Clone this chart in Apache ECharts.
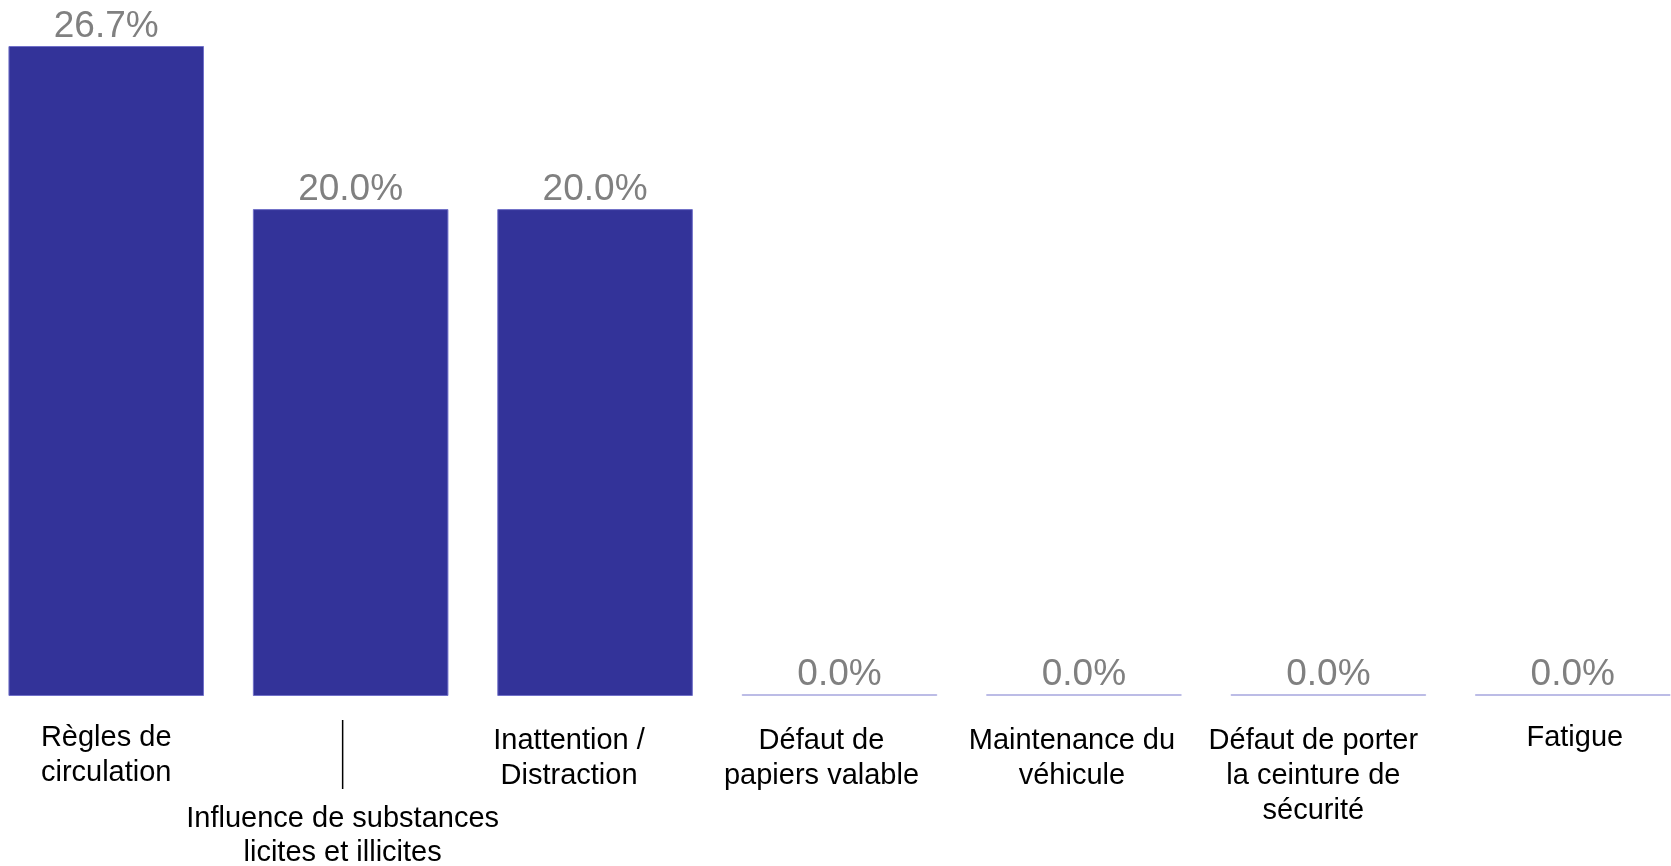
<!DOCTYPE html>
<html>
<head>
<meta charset="utf-8">
<script src="https://cdn.jsdelivr.net/npm/echarts@6/dist/echarts.min.js"></script>
<style>
html,body{margin:0;padding:0;background:#fff;}
#chart{width:1671px;height:866px;}
</style>
</head>
<body>
<div id="chart"></div>
<script>
const categories = [
  "Règles de\ncirculation",
  "Influence de substances\nlicites et illicites",
  "Inattention /\nDistraction",
  "Défaut de\npapiers valable",
  "Maintenance du\nvéhicule",
  "Défaut de porter\nla ceinture de\nsécurité",
  "Fatigue"
];
const values = [26.7, 20.0, 20.0, 0.0, 0.0, 0.0, 0.0];

// label nudges (style only, in px)
const labelShiftX = [0, -8, -26, -18, -12, -15, 2];
const labelShiftY = [0, 0, 3, 3, 3, 3, 0];

const FONT = 'Liberation Sans, Arial, sans-serif';
const chart = echarts.init(document.getElementById('chart'));

const xData = categories.map((c, i) => {
  const s = labelShiftX[i], t = labelShiftY[i];
  return {
    value: c,
    textStyle: { padding: [t, s < 0 ? -2 * s : 0, 0, s > 0 ? 2 * s : 0] }
  };
});

const data = values.map(v => v === 0
  ? { value: v, itemStyle: { color: '#bcbce6', borderColor: '#bcbce6' } }
  : { value: v });

chart.setOption({
  animation: false,
  grid: { left: -16, right: -24, top: 46, bottom: 170, containLabel: false, outerBoundsMode: 'none' },
  xAxis: {
    type: 'category',
    data: xData,
    axisLine: { show: false },
    axisTick: { show: false },
    axisLabel: {
      interval: 0,
      margin: 24,
      color: '#000',
      fontFamily: FONT,
      fontSize: 29,
      lineHeight: 35,
      verticalAlign: 'top',
      formatter: function (val, idx) {
        if (idx === 1) {
          return '{bar|}\n{gap|}\n' + val.split('\n').map(l => '{t|' + l + '}').join('\n');
        }
        return val;
      },
      rich: {
        bar: { width: 1.5, height: 69, lineHeight: 69, backgroundColor: '#000' },
        gap: { width: 1, height: 13, lineHeight: 13 },
        t: { fontSize: 29, lineHeight: 34, color: '#000', fontFamily: FONT }
      }
    }
  },
  yAxis: {
    type: 'value',
    min: 0,
    max: 'dataMax',
    show: false,
    splitLine: { show: false }
  },
  series: [{
    type: 'bar',
    data: data,
    barCategoryGap: '20%',
    barMinHeight: 2,
    itemStyle: { color: '#333399', borderColor: '#7070c8', borderWidth: 1 },
    label: {
      show: true,
      position: 'top',
      distance: 1,
      color: '#808080',
      fontFamily: FONT,
      fontSize: 37,
      formatter: p => p.value.toFixed(1) + '%'
    }
  }]
});
</script>
</body>
</html>
